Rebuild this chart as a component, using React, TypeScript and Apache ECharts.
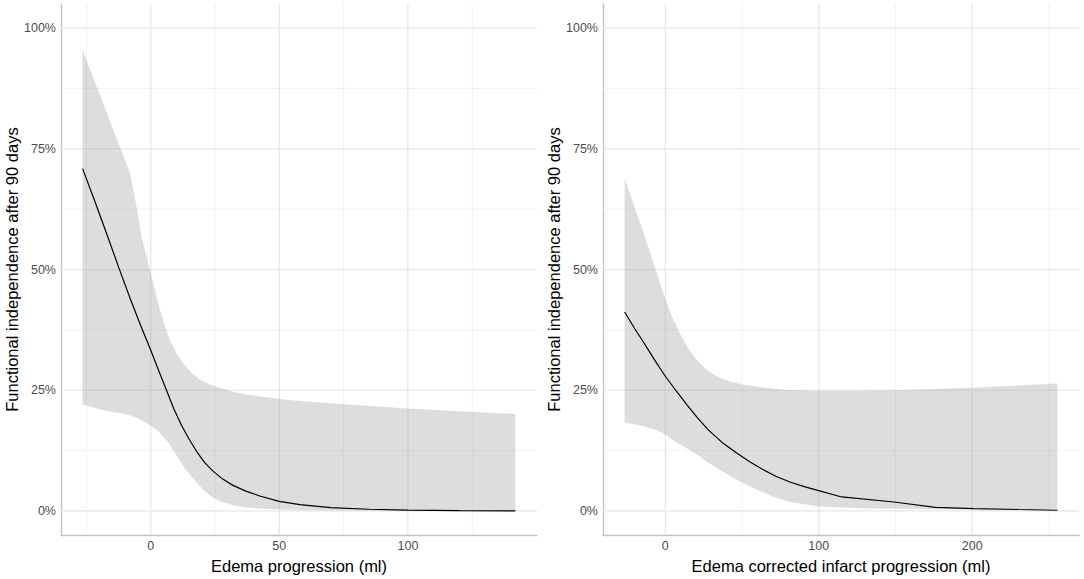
import React, { useEffect, useRef } from "react";
import * as echarts from "echarts";

// ---------- data ----------
const yTickValues = [0, 0.25, 0.5, 0.75, 1];
const yMinorValues = [0.125, 0.375, 0.625, 0.875];
const leftXTicks = [0, 50, 100];
const leftXMinor = [-25, 25, 75, 125];
const rightXTicks = [0, 100, 200];
const rightXMinor = [50, 150, 250];

const yTitle = "Functional independence after 90 days";
const leftXTitle = "Edema progression (ml)";
const rightXTitle = "Edema corrected infarct progression (ml)";

const leftFit: [number, number][] = [
  [-26.5, 0.709], [-22, 0.645], [-17, 0.572], [-12.5, 0.505], [-8, 0.44], [-4, 0.385],
  [0, 0.333], [3, 0.292], [6.2, 0.249], [9, 0.211], [12, 0.177], [15, 0.148],
  [18, 0.122], [21, 0.1], [24.3, 0.082], [28, 0.066], [32, 0.053], [37, 0.041],
  [42.4, 0.031], [50, 0.02], [58, 0.013], [70, 0.007], [85, 0.0035], [100, 0.0018],
  [120, 0.0008], [141.8, 0.0003],
];
const leftUpper: [number, number][] = [
  [-26.5, 0.954], [-8, 0.699], [-5.5, 0.63], [-3.5, 0.566], [-0.3, 0.5], [3.6, 0.416],
  [5.5, 0.382], [7.5, 0.354], [10, 0.326], [12.6, 0.306], [16, 0.285], [19.1, 0.272],
  [23, 0.262], [26.9, 0.255], [32, 0.247], [37.2, 0.241], [50, 0.232], [57.9, 0.228],
  [75, 0.221], [100, 0.212], [125, 0.205], [141.8, 0.201],
];
const leftLower: [number, number][] = [
  [-26.5, 0.2205], [-18, 0.208], [-9.3, 0.2], [-5, 0.192], [-2.9, 0.186], [0, 0.177],
  [3.6, 0.162], [7, 0.14], [10.1, 0.114], [13, 0.09], [16.5, 0.0665], [20, 0.046],
  [23, 0.032], [27, 0.02], [32, 0.0117], [37, 0.007], [42.4, 0.005], [50, 0.003],
  [60, 0.002], [80, 0.001], [100, 0.0005], [141.8, 0.0002],
];

const rightFit: [number, number][] = [
  [-26.5, 0.412], [-20, 0.378], [-14.3, 0.35], [-7, 0.313], [0, 0.279], [7, 0.249],
  [14, 0.22], [21, 0.193], [28, 0.168], [37, 0.142], [46.5, 0.12], [55, 0.102],
  [63, 0.087], [72, 0.072], [81.2, 0.06], [90, 0.051], [99.3, 0.0425], [115, 0.029],
  [149, 0.0185], [176, 0.0076], [201, 0.005], [230, 0.003], [255.5, 0.0015],
];
const rightUpper: [number, number][] = [
  [-26.5, 0.688], [-14.3, 0.577], [-5, 0.487], [0.3, 0.436], [5, 0.398], [9.6, 0.367],
  [15, 0.336], [20.4, 0.313], [27, 0.292], [33.5, 0.279], [42, 0.268], [50.4, 0.262],
  [65, 0.255], [77, 0.251], [100, 0.249], [113.8, 0.249], [150, 0.25], [200, 0.255],
  [255.5, 0.264],
];
const rightLower: [number, number][] = [
  [-26.5, 0.183], [-14.3, 0.176], [-5, 0.166], [0.3, 0.158], [7, 0.143], [13.9, 0.13],
  [20.2, 0.118], [28, 0.1], [38.2, 0.08], [48, 0.062], [58.6, 0.046], [70, 0.03],
  [81.2, 0.0185], [99.3, 0.0097], [115, 0.007], [133, 0.005], [190, 0.0035],
  [255.5, 0.003],
];

const Y_MIN = -0.05;
const Y_MAX = 1.05;

const FONT = "Liberation Sans, Arial, Helvetica, sans-serif";

function gridSeries(idx: number, xMajor: number[], xMinor: number[]) {
  return {
    type: "custom",
    xAxisIndex: idx,
    yAxisIndex: idx,
    z: 1,
    silent: true,
    clip: true,
    data: [[xMajor[0], 0]],
    renderItem: (_params: any, api: any) => {
      const children: any[] = [];
      const addV = (v: number, w: number, c: string) => {
        const a = api.coord([v, Y_MIN]);
        const b = api.coord([v, Y_MAX]);
        children.push({ type: "line", shape: { x1: a[0], y1: a[1], x2: b[0], y2: b[1] }, style: { stroke: c, lineWidth: w } });
      };
      const addH = (v: number, w: number, c: string) => {
        const a = api.coord([-1e6, v]);
        const b = api.coord([1e6, v]);
        children.push({ type: "line", shape: { x1: a[0], y1: a[1], x2: b[0], y2: b[1] }, style: { stroke: c, lineWidth: w } });
      };
      xMinor.forEach((v) => addV(v, 0.8, "#efefef"));
      yMinorValues.forEach((v) => addH(v, 0.8, "#efefef"));
      xMajor.forEach((v) => addV(v, 1.2, "#e6e6e6"));
      yTickValues.forEach((v) => addH(v, 1.2, "#e6e6e6"));
      return { type: "group", children };
    },
  };
}

function bandSeries(idx: number, upper: [number, number][], lower: [number, number][]) {
  const pts = [...upper, ...lower.slice().reverse()];
  return {
    type: "custom",
    xAxisIndex: idx,
    yAxisIndex: idx,
    z: 2,
    silent: true,
    clip: true,
    data: [upper[0]],
    renderItem: (_params: any, api: any) => {
      const points = pts.map((p) => api.coord(p));
      return { type: "polygon", shape: { points }, style: { fill: "rgba(153,153,153,0.33)" } };
    },
  };
}

function lineSeries(idx: number, data: [number, number][]) {
  return {
    type: "line",
    xAxisIndex: idx,
    yAxisIndex: idx,
    z: 3,
    data,
    symbol: "none",
    smooth: false,
    silent: true,
    lineStyle: { color: "#000000", width: 1.2 },
  };
}

function xAxisDef(idx: number, min: number, max: number, ticks: number[], name: string) {
  return {
    gridIndex: idx,
    type: "value",
    min,
    max,
    axisLine: { show: true, onZero: false, lineStyle: { color: "#c4c4c4", width: 1.4 } },
    axisTick: { show: false },
    splitLine: { show: false },
    axisLabel: { customValues: ticks, color: "#4d4d4d", fontSize: 12.5, margin: 4, fontFamily: FONT },
    name,
    nameLocation: "middle",
    nameGap: 17,
    nameTextStyle: { color: "#000000", fontSize: 16.5, fontFamily: FONT },
  };
}

function yAxisDef(idx: number) {
  return {
    gridIndex: idx,
    type: "value",
    min: Y_MIN,
    max: Y_MAX,
    axisLine: { show: true, onZero: false, lineStyle: { color: "#c4c4c4", width: 1.4 } },
    axisTick: { show: false },
    splitLine: { show: false },
    axisLabel: {
      customValues: yTickValues,
      color: "#4d4d4d",
      fontSize: 12.5,
      margin: 5,
      fontFamily: FONT,
      formatter: (v: number) => `${Math.round(v * 100)}%`,
    },
    name: yTitle,
    nameLocation: "middle",
    nameRotate: 90,
    nameGap: 38,
    nameTextStyle: { color: "#000000", fontSize: 16.5, fontFamily: FONT },
  };
}

export default function App() {
  const ref = useRef<HTMLDivElement>(null);
  useEffect(() => {
    document.body.style.margin = "0";
    if (!ref.current) return;
    const chart = echarts.init(ref.current, undefined, { renderer: "svg" });
    chart.setOption({
      animation: false,
      backgroundColor: "#ffffff",
      textStyle: { fontFamily: FONT },
      grid: [
        { left: 61, top: 4, width: 476, height: 536 },
        { left: 603, top: 4, width: 476, height: 536 },
      ],
      xAxis: [
        xAxisDef(0, -34.9, 150.2, leftXTicks, leftXTitle),
        xAxisDef(1, -40.6, 269.6, rightXTicks, rightXTitle),
      ],
      yAxis: [yAxisDef(0), yAxisDef(1)],
      series: [
        gridSeries(0, leftXTicks, leftXMinor),
        gridSeries(1, rightXTicks, rightXMinor),
        bandSeries(0, leftUpper, leftLower),
        bandSeries(1, rightUpper, rightLower),
        lineSeries(0, leftFit),
        lineSeries(1, rightFit),
      ],
    });
    return () => chart.dispose();
  }, []);
  return <div ref={ref} style={{ width: 1084, height: 579 }} />;
}
